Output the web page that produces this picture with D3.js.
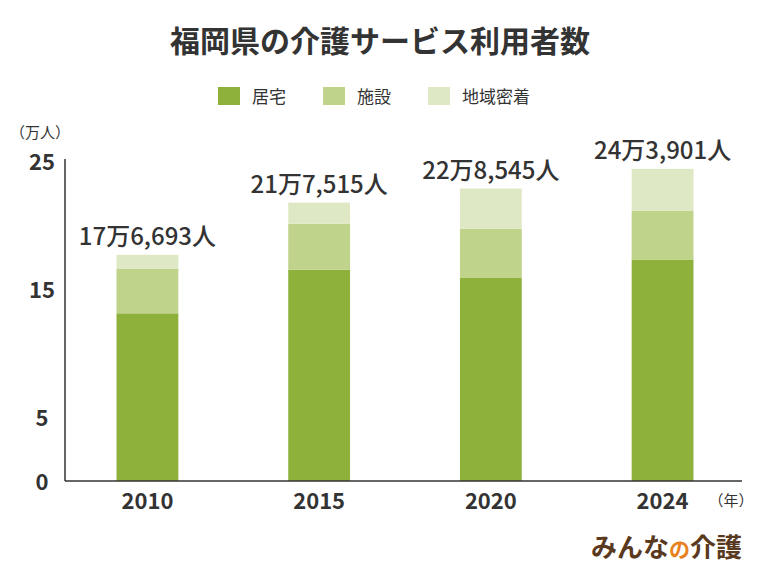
<!DOCTYPE html>
<html><head><meta charset="utf-8">
<script src="https://cdn.jsdelivr.net/npm/d3@7"></script>
<style>body{margin:0;background:#fff;font-family:"Noto Sans CJK JP","Noto Sans",sans-serif;}</style>
</head><body><svg id="c" width="760" height="570"></svg>
<script>
const years = ["2010","2015","2020","2024"];
const kyotaku = [13.1,16.5,15.9,17.3];
const shisetsu = [3.5,3.6,3.8,3.8];
const chiiki = [1.07,1.65,3.15,3.29];
const totalLabels = ["17万6,693人","21万7,515人","22万8,545人","24万3,901人"];
const yTicks = [0,5,15,25];
const seriesNames = ["居宅","施設","地域密着"];
const colors = ["#8db13a","#bfd38b","#dfe8c4"];

const svg = d3.select("#c");
const x = d3.scaleBand().domain(years).range([65,745]).paddingInner(0.64).paddingOuter(0.3);
const y = d3.scaleLinear().domain([0,25]).range([481,161]);

svg.append("text").attr("x",380).attr("y",52).attr("text-anchor","middle")
  .attr("font-size",30).attr("font-weight",700).attr("fill","#333").text("福岡県の介護サービス利用者数");

const lg = svg.append("g");
const lx = [218,323,428];
seriesNames.forEach((n,i)=>{
  lg.append("rect").attr("x",lx[i]).attr("y",87).attr("width",22).attr("height",18).attr("fill",colors[i]);
  lg.append("text").attr("x",lx[i]+34).attr("y",103).attr("font-size",17).attr("fill","#333").text(n);
});

const data = years.map((yr,i)=>({yr,k:kyotaku[i],s:shisetsu[i],c:chiiki[i]}));
const stack = d3.stack().keys(["k","s","c"])(data);
stack.forEach((layer,li)=>{
  svg.append("g").selectAll("rect").data(layer).join("rect")
    .attr("x",d=>x(d.data.yr)).attr("width",x.bandwidth())
    .attr("y",d=>y(d[1])).attr("height",d=>y(d[0])-y(d[1])).attr("fill",colors[li]);
});
stack[2].forEach((d,i)=>{
  svg.append("text").attr("x",x(d.data.yr)+x.bandwidth()/2).attr("y",y(d[1])-10)
    .attr("text-anchor","middle").attr("font-size",24).attr("font-weight",500).attr("fill","#333").text(totalLabels[i]);
});

svg.append("line").attr("x1",65).attr("x2",65).attr("y1",159).attr("y2",481).attr("stroke","#333").attr("stroke-width",1.5);
svg.append("line").attr("x1",65).attr("x2",742).attr("y1",481).attr("y2",481).attr("stroke","#333").attr("stroke-width",1.5);
yTicks.forEach(t=>{
  svg.append("text").attr("x",42).attr("y",y(t)+9).attr("text-anchor","middle").attr("font-size",22).attr("font-weight",700).attr("fill","#333").text(t);
});
years.forEach(yr=>{
  svg.append("text").attr("x",x(yr)+x.bandwidth()/2).attr("y",509).attr("text-anchor","middle").attr("font-size",22).attr("font-weight",700).attr("fill","#333").text(yr);
});
svg.append("text").attr("x",40).attr("y",138).attr("text-anchor","middle").attr("font-size",15).attr("fill","#333").text("（万人）");
svg.append("text").attr("x",731).attr("y",506).attr("text-anchor","middle").attr("font-size",15).attr("fill","#333").text("（年）");

const logo = svg.append("text").attr("x",742).attr("y",557).attr("text-anchor","end").attr("font-size",26).attr("font-weight",700).attr("fill","#5a3a1e");
logo.append("tspan").text("みんな");
logo.append("tspan").attr("fill","#e8821e").attr("font-size",21).text("の");
logo.append("tspan").text("介護");
</script></body></html>
